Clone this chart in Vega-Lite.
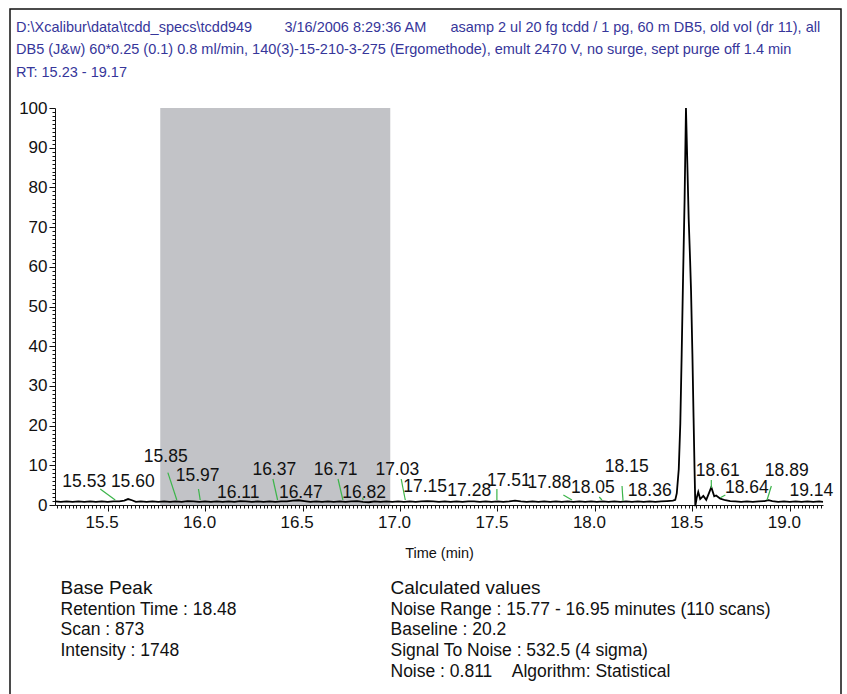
{
  "$schema": "https://vega.github.io/schema/vega-lite/v6.json",
  "width": 831,
  "height": 686,
  "autosize": {"type": "none"},
  "padding": {"left": 10, "top": 9, "right": 6, "bottom": 0},
  "background": "white",
  "config": {
    "view": {"stroke": "#111111", "strokeWidth": 1.5},
    "font": "Liberation Sans, Arial, sans-serif",
    "axis": {"labelFont": "Liberation Sans, Arial, sans-serif", "titleFont": "Liberation Sans, Arial, sans-serif", "labelColor": "#111111", "titleColor": "#111111", "domainColor": "#111111", "tickColor": "#111111", "grid": false}
  },
  "title": {
    "text": [
      "D:\\Xcalibur\\data\\tcdd_specs\\tcdd949\u00a0\u00a0\u00a0\u00a0\u00a0\u00a0\u00a0\u00a03/16/2006 8:29:36 AM\u00a0\u00a0\u00a0\u00a0\u00a0\u00a0asamp 2 ul 20 fg tcdd / 1 pg, 60 m DB5, old vol (dr 11), all",
      "DB5 (J&w) 60*0.25 (0.1) 0.8 ml/min, 140(3)-15-210-3-275 (Ergomethode), emult 2470 V, no surge, sept purge off 1.4 min",
      "RT: 15.23 - 19.17"
    ],
    "anchor": "start",
    "frame": "group",
    "orient": "top",
    "baseline": "top",
    "offset": -71,
    "dx": 6,
    "fontSize": 14.5,
    "fontWeight": "normal",
    "lineHeight": 22.5,
    "color": "#36369a",
    "font": "Liberation Sans, Arial, sans-serif"
  },
  "datasets": {
    "noise": [{"start": 15.77, "end": 16.95}],
    "trace": [
      {"t": 15.23, "v": 0.9}, {"t": 15.26, "v": 0.8}, {"t": 15.29, "v": 0.9}, {"t": 15.32, "v": 0.8},
      {"t": 15.35, "v": 0.9}, {"t": 15.38, "v": 0.8}, {"t": 15.41, "v": 0.9}, {"t": 15.44, "v": 0.8},
      {"t": 15.47, "v": 0.9}, {"t": 15.50, "v": 0.8}, {"t": 15.53, "v": 0.9}, {"t": 15.56, "v": 0.9},
      {"t": 15.585, "v": 1.1}, {"t": 15.605, "v": 1.5}, {"t": 15.625, "v": 1.2}, {"t": 15.645, "v": 0.8},
      {"t": 15.67, "v": 0.9}, {"t": 15.70, "v": 0.8}, {"t": 15.73, "v": 0.9}, {"t": 15.76, "v": 0.8},
      {"t": 15.79, "v": 0.9}, {"t": 15.82, "v": 0.8}, {"t": 15.85, "v": 0.9}, {"t": 15.88, "v": 0.8},
      {"t": 15.91, "v": 1.0}, {"t": 15.94, "v": 0.9}, {"t": 15.97, "v": 0.8}, {"t": 16.00, "v": 0.9},
      {"t": 16.03, "v": 0.8}, {"t": 16.06, "v": 0.9}, {"t": 16.09, "v": 0.8}, {"t": 16.12, "v": 0.9},
      {"t": 16.15, "v": 0.8}, {"t": 16.18, "v": 1.0}, {"t": 16.21, "v": 0.9}, {"t": 16.24, "v": 0.8},
      {"t": 16.27, "v": 0.9}, {"t": 16.30, "v": 0.8}, {"t": 16.33, "v": 0.9}, {"t": 16.36, "v": 0.8},
      {"t": 16.39, "v": 0.9}, {"t": 16.42, "v": 0.9}, {"t": 16.45, "v": 1.1}, {"t": 16.48, "v": 1.2},
      {"t": 16.51, "v": 1.0}, {"t": 16.54, "v": 0.8}, {"t": 16.57, "v": 0.9}, {"t": 16.60, "v": 0.8},
      {"t": 16.63, "v": 0.9}, {"t": 16.66, "v": 0.8}, {"t": 16.69, "v": 0.9}, {"t": 16.72, "v": 0.8},
      {"t": 16.75, "v": 0.9}, {"t": 16.78, "v": 1.0}, {"t": 16.81, "v": 0.8}, {"t": 16.84, "v": 0.7},
      {"t": 16.87, "v": 0.9}, {"t": 16.90, "v": 0.8}, {"t": 16.93, "v": 0.9}, {"t": 16.96, "v": 0.8},
      {"t": 16.99, "v": 0.9}, {"t": 17.02, "v": 0.8}, {"t": 17.05, "v": 0.9}, {"t": 17.08, "v": 0.8},
      {"t": 17.11, "v": 0.9}, {"t": 17.14, "v": 1.0}, {"t": 17.17, "v": 0.9}, {"t": 17.20, "v": 0.8},
      {"t": 17.23, "v": 0.9}, {"t": 17.26, "v": 0.8}, {"t": 17.29, "v": 0.9}, {"t": 17.32, "v": 0.8},
      {"t": 17.35, "v": 0.9}, {"t": 17.38, "v": 0.9}, {"t": 17.41, "v": 0.8}, {"t": 17.44, "v": 0.9},
      {"t": 17.47, "v": 0.8}, {"t": 17.50, "v": 0.9}, {"t": 17.53, "v": 0.8}, {"t": 17.56, "v": 0.9},
      {"t": 17.59, "v": 1.1}, {"t": 17.62, "v": 0.9}, {"t": 17.65, "v": 0.8}, {"t": 17.68, "v": 0.9},
      {"t": 17.71, "v": 0.8}, {"t": 17.74, "v": 0.9}, {"t": 17.77, "v": 0.8}, {"t": 17.80, "v": 0.9},
      {"t": 17.83, "v": 0.8}, {"t": 17.86, "v": 0.9}, {"t": 17.89, "v": 0.8}, {"t": 17.92, "v": 0.9},
      {"t": 17.95, "v": 0.8}, {"t": 17.98, "v": 0.9}, {"t": 18.01, "v": 0.8}, {"t": 18.04, "v": 0.9},
      {"t": 18.07, "v": 0.8}, {"t": 18.10, "v": 0.9}, {"t": 18.13, "v": 0.8}, {"t": 18.16, "v": 0.9},
      {"t": 18.19, "v": 0.8}, {"t": 18.22, "v": 0.9}, {"t": 18.25, "v": 0.8}, {"t": 18.28, "v": 0.9},
      {"t": 18.31, "v": 0.8}, {"t": 18.34, "v": 0.9}, {"t": 18.37, "v": 1.0},
      {"t": 18.40, "v": 1.1}, {"t": 18.412, "v": 1.3}, {"t": 18.420, "v": 3.0}, {"t": 18.430, "v": 9},
      {"t": 18.438, "v": 20.6}, {"t": 18.445, "v": 38}, {"t": 18.452, "v": 57}, {"t": 18.460, "v": 77},
      {"t": 18.467, "v": 100}, {"t": 18.474, "v": 86}, {"t": 18.481, "v": 72}, {"t": 18.488, "v": 62},
      {"t": 18.493, "v": 54}, {"t": 18.500, "v": 38}, {"t": 18.506, "v": 22}, {"t": 18.511, "v": 9},
      {"t": 18.515, "v": -0.3}, {"t": 18.522, "v": 1.8}, {"t": 18.530, "v": 3.3}, {"t": 18.540, "v": 1.5},
      {"t": 18.556, "v": 2.3}, {"t": 18.571, "v": 1.3}, {"t": 18.585, "v": 3.0}, {"t": 18.597, "v": 4.5},
      {"t": 18.612, "v": 2.2}, {"t": 18.622, "v": 2.4}, {"t": 18.643, "v": 1.6}, {"t": 18.669, "v": 1.2},
      {"t": 18.694, "v": 1.0}, {"t": 18.72, "v": 0.9}, {"t": 18.75, "v": 0.8}, {"t": 18.78, "v": 0.9},
      {"t": 18.81, "v": 0.8}, {"t": 18.84, "v": 0.9}, {"t": 18.87, "v": 1.0}, {"t": 18.89, "v": 1.2},
      {"t": 18.91, "v": 1.0}, {"t": 18.94, "v": 0.8}, {"t": 18.97, "v": 0.9}, {"t": 19.00, "v": 0.8},
      {"t": 19.03, "v": 0.9}, {"t": 19.06, "v": 0.8}, {"t": 19.09, "v": 0.9}, {"t": 19.12, "v": 0.8},
      {"t": 19.15, "v": 0.9}, {"t": 19.17, "v": 0.8}
    ],
    "labels": [
      {"label": "15.53", "t": 15.380, "v": 5.67},
      {"label": "15.60", "t": 15.629, "v": 5.79},
      {"label": "15.85", "t": 15.798, "v": 12.09},
      {"label": "15.97", "t": 15.962, "v": 7.18},
      {"label": "16.11", "t": 16.170, "v": 3.02},
      {"label": "16.37", "t": 16.355, "v": 8.94},
      {"label": "16.47", "t": 16.491, "v": 3.02},
      {"label": "16.71", "t": 16.670, "v": 8.94},
      {"label": "16.82", "t": 16.816, "v": 3.02},
      {"label": "17.03", "t": 16.986, "v": 8.94},
      {"label": "17.15", "t": 17.129, "v": 4.53},
      {"label": "17.28", "t": 17.355, "v": 3.53},
      {"label": "17.51", "t": 17.558, "v": 6.17},
      {"label": "17.88", "t": 17.766, "v": 5.54},
      {"label": "18.05", "t": 17.989, "v": 4.28},
      {"label": "18.15", "t": 18.163, "v": 9.57},
      {"label": "18.36", "t": 18.281, "v": 3.53},
      {"label": "18.61", "t": 18.630, "v": 8.69},
      {"label": "18.64", "t": 18.779, "v": 4.28},
      {"label": "18.89", "t": 18.984, "v": 8.69},
      {"label": "19.14", "t": 19.110, "v": 3.53}
    ],
    "leaders": [
      {"t1": 15.462, "v1": 4.03, "t2": 15.539, "v2": 1.26},
      {"t1": 15.809, "v1": 8.14, "t2": 15.855, "v2": 1.26},
      {"t1": 15.966, "v1": 4.03, "t2": 15.975, "v2": 1.26},
      {"t1": 16.348, "v1": 6.55, "t2": 16.372, "v2": 1.26},
      {"t1": 16.682, "v1": 6.55, "t2": 16.707, "v2": 1.26},
      {"t1": 16.808, "v1": 1.84, "t2": 16.811, "v2": 1.26},
      {"t1": 17.006, "v1": 6.55, "t2": 17.027, "v2": 1.26},
      {"t1": 17.497, "v1": 4.03, "t2": 17.497, "v2": 1.26},
      {"t1": 17.838, "v1": 2.52, "t2": 17.882, "v2": 1.26},
      {"t1": 18.022, "v1": 2.02, "t2": 18.036, "v2": 1.26},
      {"t1": 18.139, "v1": 4.79, "t2": 18.144, "v2": 1.08},
      {"t1": 18.597, "v1": 6.30, "t2": 18.597, "v2": 4.28},
      {"t1": 18.643, "v1": 1.84, "t2": 18.669, "v2": 2.52},
      {"t1": 18.905, "v1": 4.79, "t2": 18.883, "v2": 1.26}
    ]
  },
  "layer": [
    {
      "data": {"name": "noise"},
      "mark": {"type": "rect", "color": "#c2c3c7"},
      "encoding": {
        "x": {"field": "start", "type": "quantitative",
          "scale": {"domain": [15.23, 19.17], "range": [45, 813], "nice": false, "zero": false},
          "axis": {"orient": "bottom", "labels": false, "ticks": false, "domain": false, "grid": false,
            "title": "Base Peak", "titleX": 50, "titleY": -108, "titleAlign": "left", "titleBaseline": "middle",
            "titleFontSize": 19, "titleFontWeight": "normal"}},
        "x2": {"field": "end"},
        "y": {"datum": 100, "type": "quantitative", "scale": {"domain": [0, 100], "range": [496, 99], "nice": false, "zero": false}, "axis": null},
        "y2": {"datum": 0}
      }
    },
    {
      "data": {"name": "trace"},
      "mark": {"type": "line", "color": "#000000", "strokeWidth": 1.8, "interpolate": "linear"},
      "encoding": {
        "x": {"field": "t", "type": "quantitative",
          "scale": {"domain": [15.23, 19.17], "range": [45, 813], "nice": false, "zero": false},
          "axis": {"orient": "bottom", "offset": -190, "tickCount": 200, "labelOverlap": false, "labelFlush": false,
            "labelExpr": "abs(datum.value*2-round(datum.value*2))<0.001 ? format(datum.value, '.1f') : ''",
            "tickSize": {"condition": {"test": "abs(datum.value*2-round(datum.value*2))<0.001", "value": 6}, "value": 3},
            "labelFontSize": 17, "labelPadding": 3, "labelOffset": -6,
            "title": "Time (min)", "titleFontSize": 14.5, "titleFontWeight": "normal", "titleY": 48, "titleBaseline": "middle"}},
        "y": {"field": "v", "type": "quantitative",
          "scale": {"domain": [0, 100], "range": [496, 99], "nice": false, "zero": false},
          "axis": {"orient": "left", "offset": -45, "tickCount": 100, "labelOverlap": false, "labelFlush": false,
            "labelExpr": "datum.value % 10 === 0 ? datum.label : ''",
            "tickSize": {"condition": {"test": "datum.value % 10 === 0", "value": 6}, "value": 3},
            "labelFontSize": 17, "labelPadding": 2, "title": null}}
      }
    },
    {
      "data": {"name": "leaders"},
      "mark": {"type": "rule", "color": "#3cb54a", "strokeWidth": 1.2},
      "encoding": {
        "x": {"field": "t1", "type": "quantitative",
          "scale": {"domain": [15.23, 19.17], "range": [45, 813], "nice": false, "zero": false},
          "axis": {"orient": "bottom", "labels": false, "ticks": false, "domain": false, "grid": false,
            "title": ["Retention Time : 18.48", "Scan : 873", "Intensity : 1748"],
            "titleX": 50, "titleY": -81, "titleAlign": "left", "titleBaseline": "alphabetic",
            "titleFontSize": 17.5, "titleFontWeight": "normal", "titleLineHeight": 20.7}},
        "x2": {"field": "t2"},
        "y": {"field": "v1", "type": "quantitative", "scale": {"domain": [0, 100], "range": [496, 99], "nice": false, "zero": false}, "axis": null},
        "y2": {"field": "v2"}
      }
    },
    {
      "data": {"name": "labels"},
      "mark": {"type": "text", "fontSize": 17.5, "align": "center", "baseline": "middle", "color": "#111111"},
      "encoding": {
        "x": {"field": "t", "type": "quantitative",
          "scale": {"domain": [15.23, 19.17], "range": [45, 813], "nice": false, "zero": false},
          "axis": {"orient": "bottom", "labels": false, "ticks": false, "domain": false, "grid": false,
            "title": "Calculated values", "titleX": 380, "titleY": -108, "titleAlign": "left", "titleBaseline": "middle",
            "titleFontSize": 19, "titleFontWeight": "normal"}},
        "y": {"field": "v", "type": "quantitative",
          "scale": {"domain": [0, 100], "range": [496, 99], "nice": false, "zero": false},
          "axis": {"orient": "left", "labels": false, "ticks": false, "domain": false, "grid": false,
            "title": ["Noise Range : 15.77 - 16.95 minutes (110 scans)", "Baseline : 20.2", "Signal To Noise : 532.5 (4 sigma)", "Noise : 0.811\u00a0\u00a0\u00a0\u00a0Algorithm: Statistical"],
            "titleX": 380, "titleY": 605, "titleAngle": 0, "titleAlign": "left", "titleBaseline": "alphabetic",
            "titleFontSize": 17.5, "titleFontWeight": "normal", "titleLineHeight": 20.7}},
        "text": {"field": "label", "type": "nominal"}
      }
    }
  ],
  "resolve": {"axis": {"x": "independent", "y": "independent"}}
}
